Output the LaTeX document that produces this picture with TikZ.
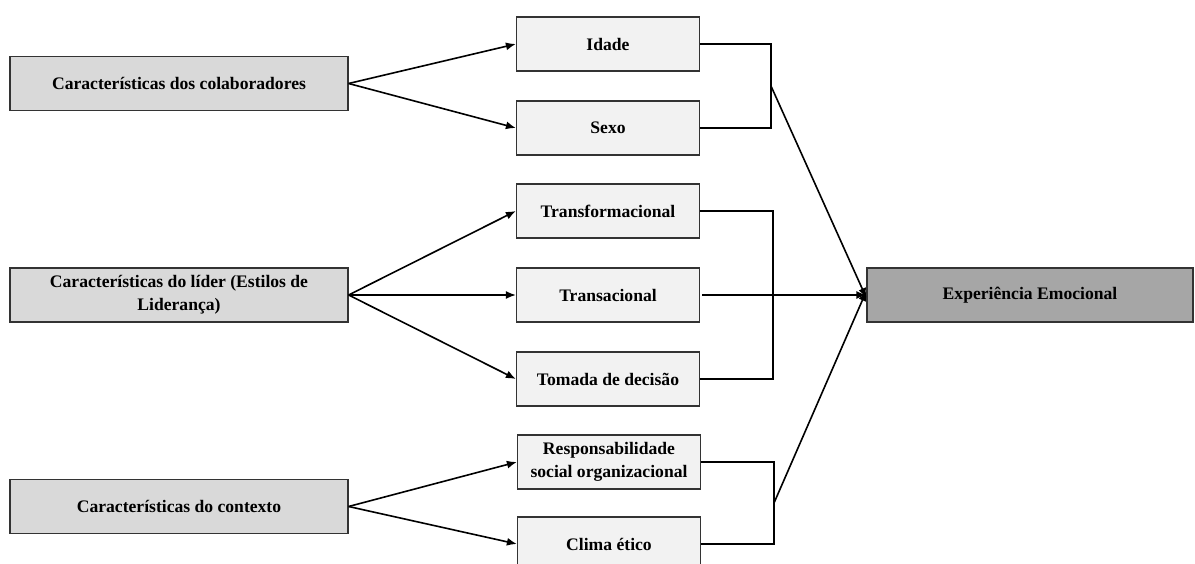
\documentclass[tikz,border=0pt]{standalone}
\usepackage{fontspec}
\setmainfont{Liberation Serif}
\usetikzlibrary{arrows.meta}

\begin{document}
\begin{tikzpicture}[x=1pt, y=-1pt,
    caixa/.style={draw=black!80, line width=1.2pt, align=center, inner sep=0pt,
      minimum height=54pt, font=\bfseries\fontsize{17.6}{22.5}\selectfont},
    origem/.style={caixa, fill=black!15, minimum width=338pt},
    fator/.style={caixa, fill=black!5, minimum width=183pt},
    resultado/.style={caixa, fill=black!35, minimum width=326pt},
    seta/.style={-{Latex[length=10pt,width=8pt]}, line width=1.6pt},
    liga/.style={line width=1.8pt}]
  \useasboundingbox (0,0) rectangle (1195,564);

  % caracteristicas
  \node[origem] (colab) at (179,83.5) {Características dos colaboradores};
  \node[origem] (lider) at (179,295) {Características do líder (Estilos de\\Liderança)};
  \node[origem] (contexto) at (179,506.5) {Características do contexto};

  % fatores
  \node[fator] (idade) at (608,44) {Idade};
  \node[fator] (sexo) at (608,128) {Sexo};
  \node[fator] (transf) at (608,211) {Transformacional};
  \node[fator] (transac) at (608,295) {Transacional};
  \node[fator] (decisao) at (608,379) {Tomada de decisão};
  \node[fator] (rso) at (609,462) {Responsabilidade\\social organizacional};
  \node[fator] (clima) at (609,544) {Clima ético};

  \node[resultado] (exp) at (1030,295) {Experiência Emocional};

  \foreach \de/\para in {colab/idade, colab/sexo, lider/transf, lider/transac,
      lider/decisao, contexto/rso, contexto/clima}
    \draw[seta] (\de.east) -- (\para.west);

  % chavetas
  \coordinate (jA) at (771,86);
  \coordinate (jB) at (773,295);
  \coordinate (jC) at (774,503);
  \draw[liga] (idade.east) -| (jA) |- (sexo.east);
  \draw[liga] (transf.east) -| (jB) |- (decisao.east);
  \draw[liga] (rso.east) -| (jC) |- (clima.east);

  \draw[seta] (jA) -- ([yshift=-3pt]exp.west);
  \draw[seta] ([xshift=2pt]transac.east) -- (exp.west);
  \draw[seta] (jC) -- ([yshift=4pt]exp.west);
\end{tikzpicture}
\end{document}
